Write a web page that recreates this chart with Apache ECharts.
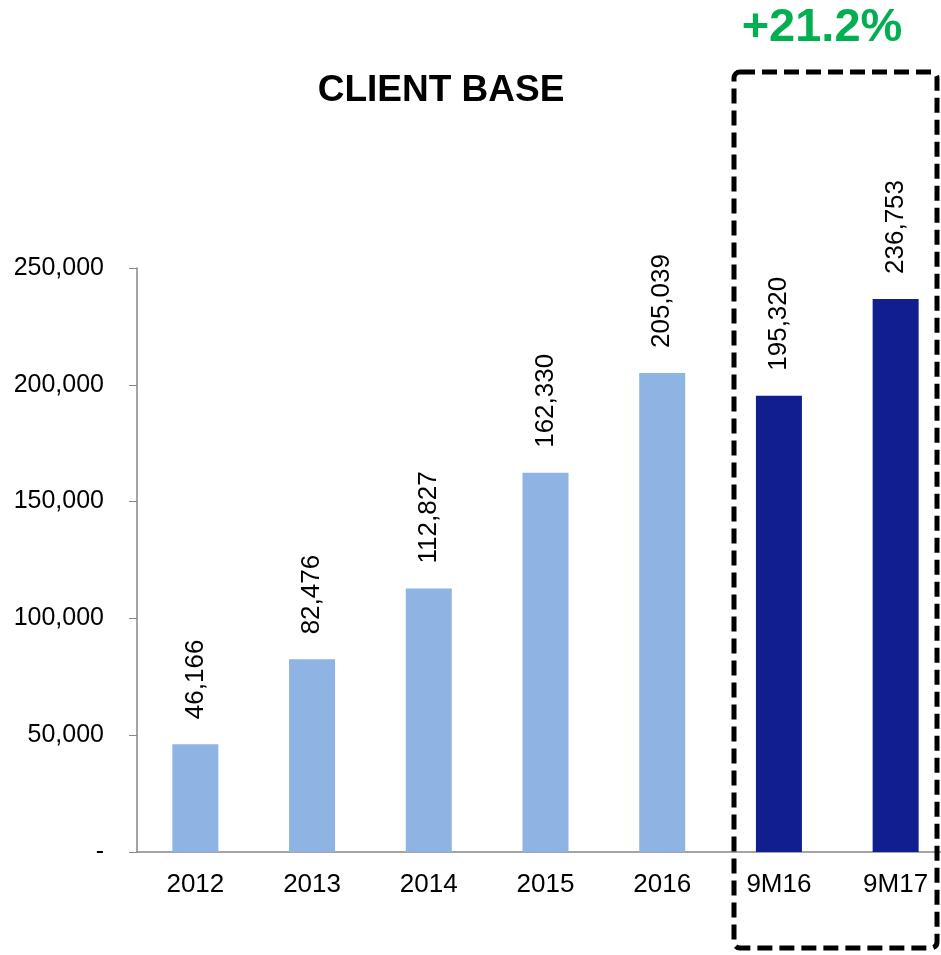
<!DOCTYPE html>
<html>
<head>
<meta charset="utf-8">
<script src="https://cdn.jsdelivr.net/npm/echarts@6/dist/echarts.min.js"></script>
<style>
  html, body { margin: 0; padding: 0; background: #fff; overflow: hidden; }
  #mychart { width: 954px; height: 955px; }
</style>
</head>
<body>
<div id="mychart"></div>
<script>
"use strict";
const categories = ['2012', '2013', '2014', '2015', '2016', '9M16', '9M17'];
const clients = [46166, 82476, 112827, 162330, 205039, 195320, 236753];
const yearColor = '#8DB4E2';
const periodColor = '#111E8E';
const growthText = '+21.2%';

// the plot runs a little past the right edge of the 941px window, as in the original
const container = document.getElementById('mychart');
const myChart = echarts.init(container);

const barData = clients.map((v, i) => ({
    value: v,
    itemStyle: { color: i < 5 ? yearColor : periodColor }
}));

const option = {
    animation: false,
    textStyle: { fontFamily: 'Arial, "Liberation Sans", sans-serif' },
    title: {
        text: 'CLIENT BASE',
        left: 436,
        top: 67,
        textAlign: 'center',
        textStyle: { fontSize: 37, fontWeight: 'bold', color: '#000' }
    },
    grid: { left: 137, right: 0, top: 268, bottom: 103 },
    xAxis: {
        type: 'category',
        data: categories,
        axisLine: { lineStyle: { color: '#868686', width: 1.5 } },
        axisTick: { length: 8, lineStyle: { color: '#868686' } },
        axisLabel: { color: '#000', fontSize: 26, margin: 20 }
    },
    yAxis: {
        type: 'value',
        min: 0,
        max: 250000,
        interval: 50000,
        splitLine: { show: false },
        axisLine: { show: true, lineStyle: { color: '#868686', width: 1.5 } },
        axisTick: { show: true, length: 8, lineStyle: { color: '#868686' } },
        axisLabel: {
            color: '#000',
            fontSize: 25,
            margin: 33,
            formatter: v => v === 0 ? '-' : v.toLocaleString('en-US')
        }
    },
    series: [
        {
            type: 'bar',
            data: barData,
            barWidth: 46,
            label: {
                show: true,
                position: 'top',
                rotate: 90,
                align: 'left',
                verticalAlign: 'middle',
                distance: 25,
                fontSize: 26,
                color: '#000',
                formatter: p => p.value.toLocaleString('en-US')
            }
        }
    ],
    graphic: [
        {
            type: 'rect',
            shape: { x: 734, y: 72, width: 203, height: 876, r: 6 },
            style: { fill: 'none', stroke: '#000', lineWidth: 5, lineDash: [15, 7] },
            z: 10
        },
        {
            type: 'text',
            x: 822,
            y: 28,
            style: {
                text: growthText,
                fill: '#00B050',
                font: 'bold 47px Arial, "Liberation Sans", sans-serif',
                textAlign: 'center',
                textVerticalAlign: 'middle'
            }
        }
    ]
};
myChart.setOption(option);
</script>
</body>
</html>
